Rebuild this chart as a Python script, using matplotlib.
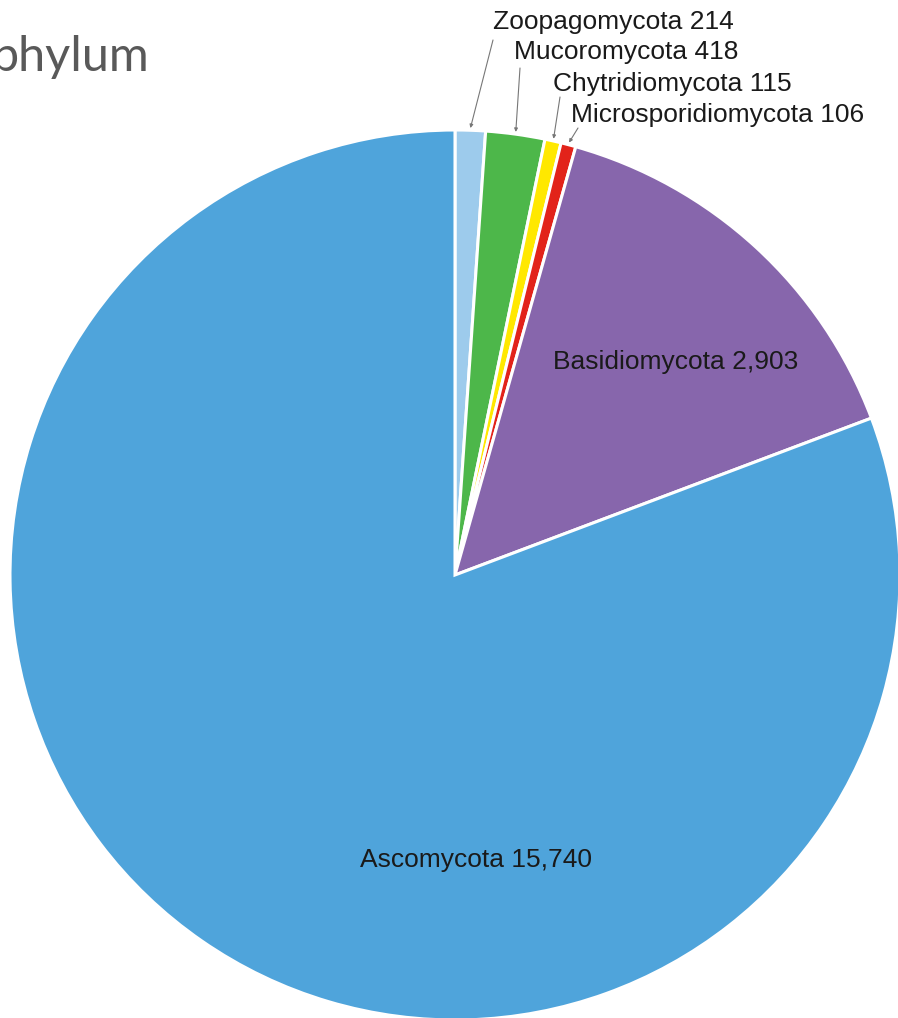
import numpy as np
import matplotlib
matplotlib.use("Agg")
import matplotlib.pyplot as plt

phyla = ["Zoopagomycota", "Mucoromycota", "Chytridiomycota", "Microsporidiomycota",
         "Basidiomycota", "Ascomycota"]
counts = [214, 418, 115, 106, 2903, 15740]
colors = ["#9DCBEC", "#4DB74A", "#FFE800", "#E2231A", "#8766AC", "#4FA4DB"]

W, H = 898, 1018
fig = plt.figure(figsize=(W / 100, H / 100), dpi=100)
ax = fig.add_axes([0, 0, 1, 1])

def P(x, y):
    return (x, H - y)

cx, cy = P(455, 575)
R = 445
wedges, _ = ax.pie(counts, colors=colors, startangle=90, counterclock=False,
                   center=(cx, cy), radius=R,
                   wedgeprops=dict(edgecolor="white", linewidth=2.2))
ax.set_xlim(0, W)
ax.set_ylim(0, H)
ax.set_aspect("equal")
ax.axis("off")

plt.rcParams["font.family"] = ["Liberation Sans", "DejaVu Sans"]
fs = 19

# external labels for small slices
text_pos = [(493, 22), (514, 52), (553, 84), (571, 115)]
line_start = [(493, 40), (520, 68), (560, 97), (578, 128)]
for i in range(4):
    w = wedges[i]
    mid = np.deg2rad((w.theta1 + w.theta2) / 2)
    tip = (cx + R * 1.005 * np.cos(mid), cy + R * 1.005 * np.sin(mid))
    ax.annotate("", xy=tip, xytext=P(*line_start[i]),
                arrowprops=dict(arrowstyle="-|>", color="#777777", lw=0.8,
                                mutation_scale=5, shrinkA=0, shrinkB=0))
    ax.text(*P(*text_pos[i]), f"{phyla[i]} {counts[i]:,}", ha="left", va="center",
            fontsize=fs, color="#1a1a1a")

ax.text(*P(676, 362), f"{phyla[4]} {counts[4]:,}", ha="center", va="center",
        fontsize=fs, color="#1a1a1a")
ax.text(*P(476, 860), f"{phyla[5]} {counts[5]:,}", ha="center", va="center",
        fontsize=fs, color="#1a1a1a")

ax.text(*P(149, 57), "phylum", ha="right", va="center", fontsize=35,
        color="#595959", family=["Lato", "DejaVu Sans"])

fig.savefig("out.png", dpi=100)
